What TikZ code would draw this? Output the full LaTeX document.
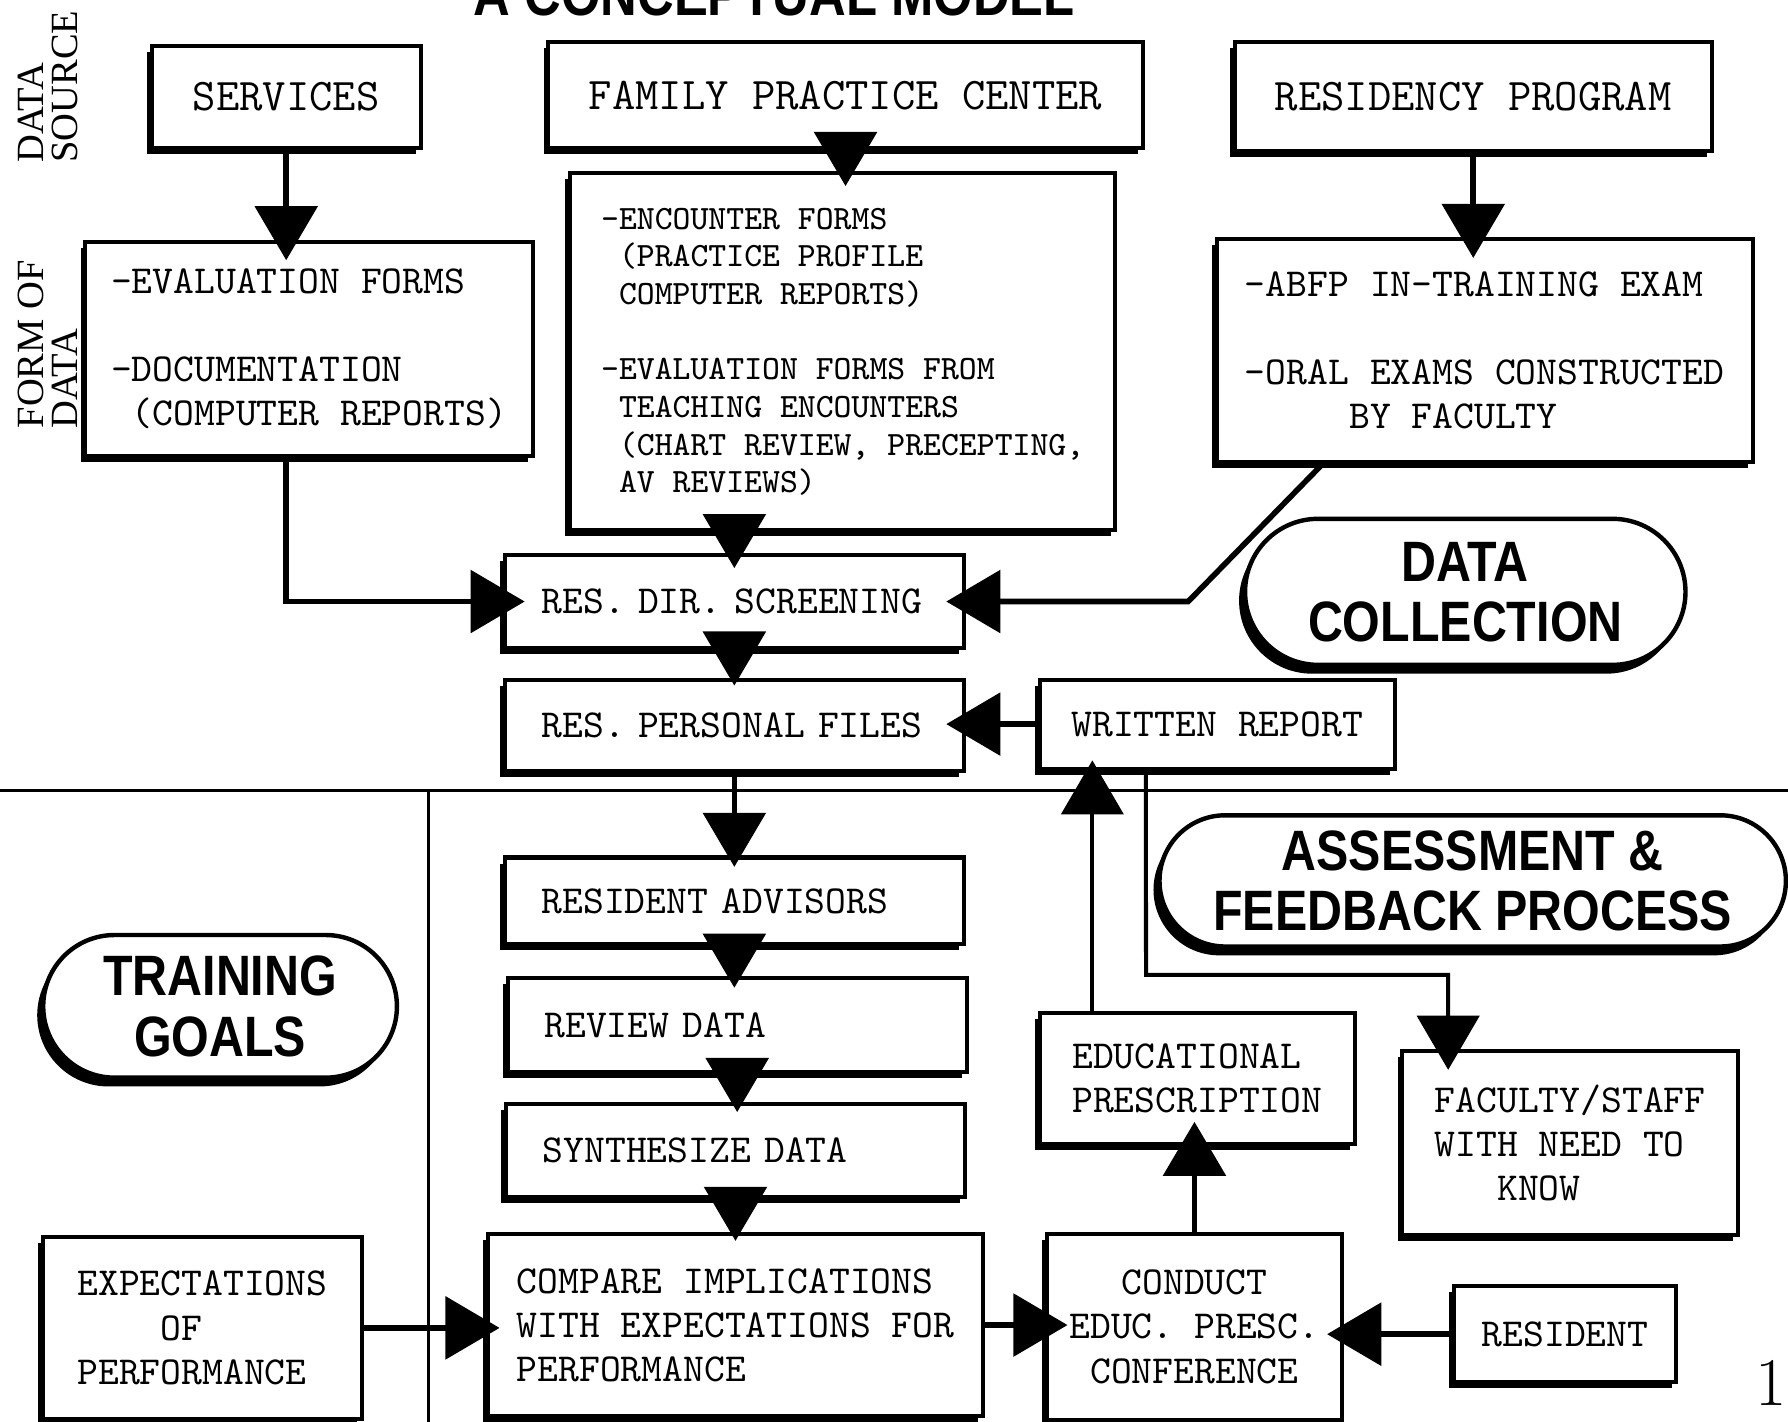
\documentclass[tikz,border=0pt]{standalone}
\usepackage{fontspec}
\newfontfamily\hdfam{Liberation Sans}[FakeStretch=0.85]
\newfontfamily\lblfam{Liberation Serif}
\usetikzlibrary{arrows.meta,shapes.misc,shadows}
\newcommand\fTw{\ttfamily\fontsize{9.9}{11}\selectfont}
\newcommand\fTop{\ttfamily\fontsize{11.3}{12}\selectfont}
\newcommand\fEnc{\ttfamily\fontsize{8.5}{9.4}\selectfont}
\newcommand\fHd{\hdfam\bfseries\fontsize{14.2}{15}\selectfont}
\newcommand\fLbl{\lblfam\fontsize{9.6}{8.6}\selectfont}
\begin{document}
\begin{tikzpicture}[x=0.01cm,y=-0.01cm,
  tri/.style={-{Triangle[width=15.5pt,length=13.5pt]}},
  arr/.style={tri, line width=1.4pt},
  arrthin/.style={tri, line width=1pt},
  box/.style={draw, fill=white, line width=1pt, inner sep=0pt, align=left, font=\fTw,
    drop shadow={shadow xshift=-1.2pt, shadow yshift=-1.5pt, opacity=1, fill=black}},
  topbox/.style={box, font=\fTop},
  encbox/.style={box, font=\fEnc},
  col/.style={box, text width=3.38cm, inner xsep=0.32cm},
  pill/.style={draw, fill=white, line width=1.1pt, rounded rectangle, inner sep=0pt, align=center, font=\fHd,
    drop shadow={shadow xshift=-1.5pt, shadow yshift=-2.2pt, opacity=1, fill=black}},
  lbl/.style={font=\fLbl, align=left, rotate=90, inner sep=0pt},
  divider/.style={line width=0.8pt}]

\fill[white] (0,0) rectangle (1568,1247);
\useasboundingbox (0,0) rectangle (1568,1247);

% dividers
\draw[divider] (0,693) -- (1568,693);
\draw[divider] (376,693) -- (376,1247);

% title and side labels
\node[anchor=base] (title) at (679,14) {\hdfam\bfseries\fontsize{14.9}{15}\selectfont A CONCEPTUAL MODEL};
\node[lbl] (ds) at (42,76) {DATA\\SOURCE};
\node[lbl] (fd) at (42,302) {FORM OF\\DATA};
\node (pg) at (1553,1213) {\fontsize{17}{17}\selectfont 1};

% data sources
\node[topbox, minimum width=2.36cm, minimum height=0.90cm] (serv) at (251,85) {SERVICES};
\node[topbox, minimum width=5.21cm, minimum height=0.93cm] (fpc) at (741.5,83.5) {FAMILY PRACTICE CENTER};
\node[topbox, minimum width=4.18cm, minimum height=0.95cm] (rp) at (1292,84.5) {RESIDENCY PROGRAM};

% forms of data
\node[box, minimum width=3.92cm, minimum height=1.88cm] (evalf) at (271,306)
  {-EVALUATION FORMS\\[11pt]-DOCUMENTATION\\\phantom{X}(COMPUTER REPORTS)};
\node[encbox, minimum width=4.78cm, minimum height=3.13cm] (enc) at (739,308.5)
  {-ENCOUNTER FORMS\\\phantom{-}(PRACTICE PROFILE\\\phantom{-}COMPUTER REPORTS)\\[9.4pt]-EVALUATION FORMS FROM\\\phantom{-}TEACHING ENCOUNTERS\\\phantom{-}(CHART REVIEW, PRECEPTING,\\\phantom{-}AV REVIEWS)};
\node[box, minimum width=4.70cm, minimum height=1.95cm] (abfp) at (1302,307.5)
  {-ABFP IN-TRAINING EXAM\\[11pt]-ORAL EXAMS CONSTRUCTED\\\phantom{XXXXX}BY FACULTY};

% central column
\node[col, minimum height=0.81cm] (scr) at (644,527.5) {RES. DIR. SCREENING};
\node[col, minimum height=0.80cm] (pers) at (644,636) {RES. PERSONAL FILES};
\node[box, minimum width=3.11cm, minimum height=0.78cm] (wr) at (1067.5,635) {WRITTEN REPORT};
\node[col, minimum height=0.76cm] (adv) at (644,790) {RESIDENT ADVISORS};
\node[col, minimum height=0.82cm] (rev) at (646.5,899) {REVIEW DATA};
\node[col, minimum height=0.82cm] (syn) at (645,1009) {SYNTHESIZE DATA};
\node[box, minimum width=4.34cm, minimum height=1.60cm] (cmp) at (645,1162)
  {COMPARE IMPLICATIONS\\WITH EXPECTATIONS FOR\\PERFORMANCE};
\node[box, minimum width=2.79cm, minimum height=1.59cm] (expc) at (177.5,1164.5)
  {EXPECTATIONS\\\phantom{XXXX}OF\\PERFORMANCE};
\node[box, align=center, minimum width=2.59cm, minimum height=1.63cm] (cond) at (1047.5,1163.5)
  {CONDUCT\\EDUC. PRESC.\\CONFERENCE};
\node[box, minimum width=2.76cm, minimum height=1.15cm] (educ) at (1050,945.5)
  {EDUCATIONAL\\PRESCRIPTION};
\node[box, minimum width=2.94cm, minimum height=1.61cm] (fac) at (1377,1002.5)
  {FACULTY/STAFF\\WITH NEED TO\\\phantom{XXX}KNOW};
\node[box, minimum width=1.95cm, minimum height=0.84cm] (res) at (1372.5,1170) {RESIDENT};

% headings
\node[pill, minimum width=3.86cm, minimum height=1.28cm] (dc) at (1285,519) {DATA\\COLLECTION};
\node[pill, minimum width=5.49cm, minimum height=1.15cm] (afp) at (1291.5,772.5) {ASSESSMENT \&\\FEEDBACK PROCESS};
\node[pill, minimum width=3.10cm, minimum height=1.25cm] (tg) at (193,882.5) {TRAINING\\GOALS};

% connectors
\draw[arr, shorten >=-0.18cm] (serv.south) -- (serv.south |- evalf.north);
\draw[arr, shorten >=-0.13cm] (fpc.south) -- (fpc.south |- enc.north);
\draw[arr, shorten >=-0.18cm] (rp.south) -- (rp.south |- abfp.north);
\draw[arr, shorten >=-0.13cm] (scr.north |- enc.south) -- (scr.north);
\draw[arr, shorten >=-0.07cm] (scr.south) -- (pers.north);
\draw[arr, shorten >=-0.19cm] (serv.south |- evalf.south) |- (scr.west);
\coordinate (k1) at (1042,527.5);
\draw[arr, shorten >=-0.17cm] ([xshift=-1.42cm]abfp.south) -- (k1) -- (scr.east);
\draw[arr, shorten >=-0.17cm] (wr.west) -- (wr.west -| pers.east);
\draw[arr, shorten >=-0.10cm] (pers.south) -- (pers.south |- adv.north);
\draw[arr, shorten >=-0.10cm] (adv.south) -- (adv.south |- rev.north);
\draw[arr, shorten >=-0.09cm] (rev.south) -- (rev.south |- syn.north);
\draw[arr, shorten >=-0.08cm] (syn.south) -- (syn.south |- cmp.north);
\draw[arr, shorten >=-0.12cm] (expc.east) -- (expc.east -| cmp.west);
\draw[arr, shorten >=-0.20cm] (cmp.east) -- (cmp.east -| cond.west);
\draw[arr, shorten >=-0.15cm] (res.west) -- (res.west -| cond.east);
\draw[arr, shorten >=-0.21cm] (cond.north) -- (cond.north |- educ.south);
\draw[arrthin, shorten >=-0.09cm] ([xshift=-0.92cm]educ.north) -- ([xshift=-0.92cm]educ.north |- wr.south);
\coordinate (k2) at (1005,855);
\coordinate (k3) at (1270,855);
\draw[arrthin, shorten >=-0.18cm] ([xshift=-0.625cm]wr.south) -- (k2) -- (k3) -- (k3 |- fac.north);
\end{tikzpicture}
\end{document}
